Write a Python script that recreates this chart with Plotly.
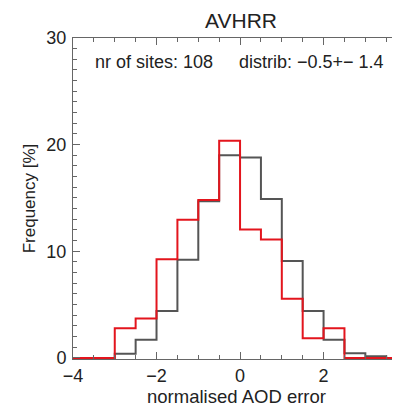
import plotly.graph_objects as go

# histogram bins of normalised AOD error (width 0.5)
edges = [-4.0, -3.5, -3.0, -2.5, -2.0, -1.5, -1.0, -0.5, 0.0,
         0.5, 1.0, 1.5, 2.0, 2.5, 3.0, 3.5, 4.0]
freq_ref = [0, 0, 0.4, 1.7, 4.4, 9.2, 14.7, 19.0, 18.8,
            14.9, 9.1, 4.4, 1.7, 0.45, 0.15, 0]
freq_avhrr = [0, 0, 2.78, 3.7, 9.26, 12.96, 14.8, 20.37, 12.04,
              11.1, 5.56, 1.85, 2.78, 0, 0, 0]

n_sites = 108
distrib = "distrib: \u22120.5+\u2212 1.4"

FONT = "Liberation Sans, Arial, Helvetica, sans-serif"
AX = "#666666"
OFF = 8  # page body margin: figure starts at (8, 8) in the window

# target plot box in window pixels
W, H = 400 - OFF, 410 - OFF
ML, MR, MT, MB = 73 - OFF, 0, 38 - OFF, 51


def step(vals):
    # hv step: one point per left edge plus closing right edge
    return edges, list(vals) + [vals[-1]]


def px(x, y):
    """window pixel -> paper coords."""
    pw, ph = W - ML - MR, H - MT - MB
    return (x - OFF - ML) / pw, (H - MB - (y - OFF)) / ph


fig = go.Figure()
for vals, col in ((freq_ref, "#555555"), (freq_avhrr, "#e3151d")):
    x, y = step(vals)
    fig.add_trace(go.Scatter(x=x, y=y, mode="lines", line=dict(color=col, width=2, shape="hv"),
                             showlegend=False, hoverinfo="skip"))

for txt, (ax_, ay_) in ((f"nr of sites: {n_sites}", (93, 62)), (distrib, (237, 62))):
    xp, yp = px(ax_, ay_)
    fig.add_annotation(x=xp, y=yp, xref="paper", yref="paper", text=txt, showarrow=False,
                       xanchor="left", yanchor="middle", font=dict(size=18, color="#222"))

fig.update_layout(
    width=W, height=H, margin=dict(l=ML, r=MR, t=MT, b=MB),
    paper_bgcolor="white", plot_bgcolor="white",
    font=dict(family=FONT, size=18, color="#222"),
    title=dict(text="AVHRR", x=(241 - OFF) / W, xanchor="center", y=1 - (21 - OFF) / H,
               yanchor="middle", font=dict(size=21, color="#222")),
    xaxis=dict(range=[-4, 3.83], dtick=2, tick0=-4, ticks="inside", ticklen=7, tickcolor=AX,
               showline=True, linecolor=AX, linewidth=1, mirror="ticks", showgrid=False,
               zeroline=False, minor=dict(dtick=0.5, ticks="inside", ticklen=4, tickcolor=AX),
               title=dict(text="normalised AOD error", standoff=2, font=dict(size=18.5))),
    yaxis=dict(range=[-0.1, 30], dtick=10, ticks="inside", ticklen=7, tickcolor=AX,
               showline=True, linecolor=AX, linewidth=1, showgrid=False, zeroline=False,
               minor=dict(dtick=1, ticks="inside", ticklen=4, tickcolor=AX),
               ticklabelstandoff=2, title=dict(text="Frequency [%]", standoff=6, font=dict(size=17))),
)

fig.write_html("out.html")
